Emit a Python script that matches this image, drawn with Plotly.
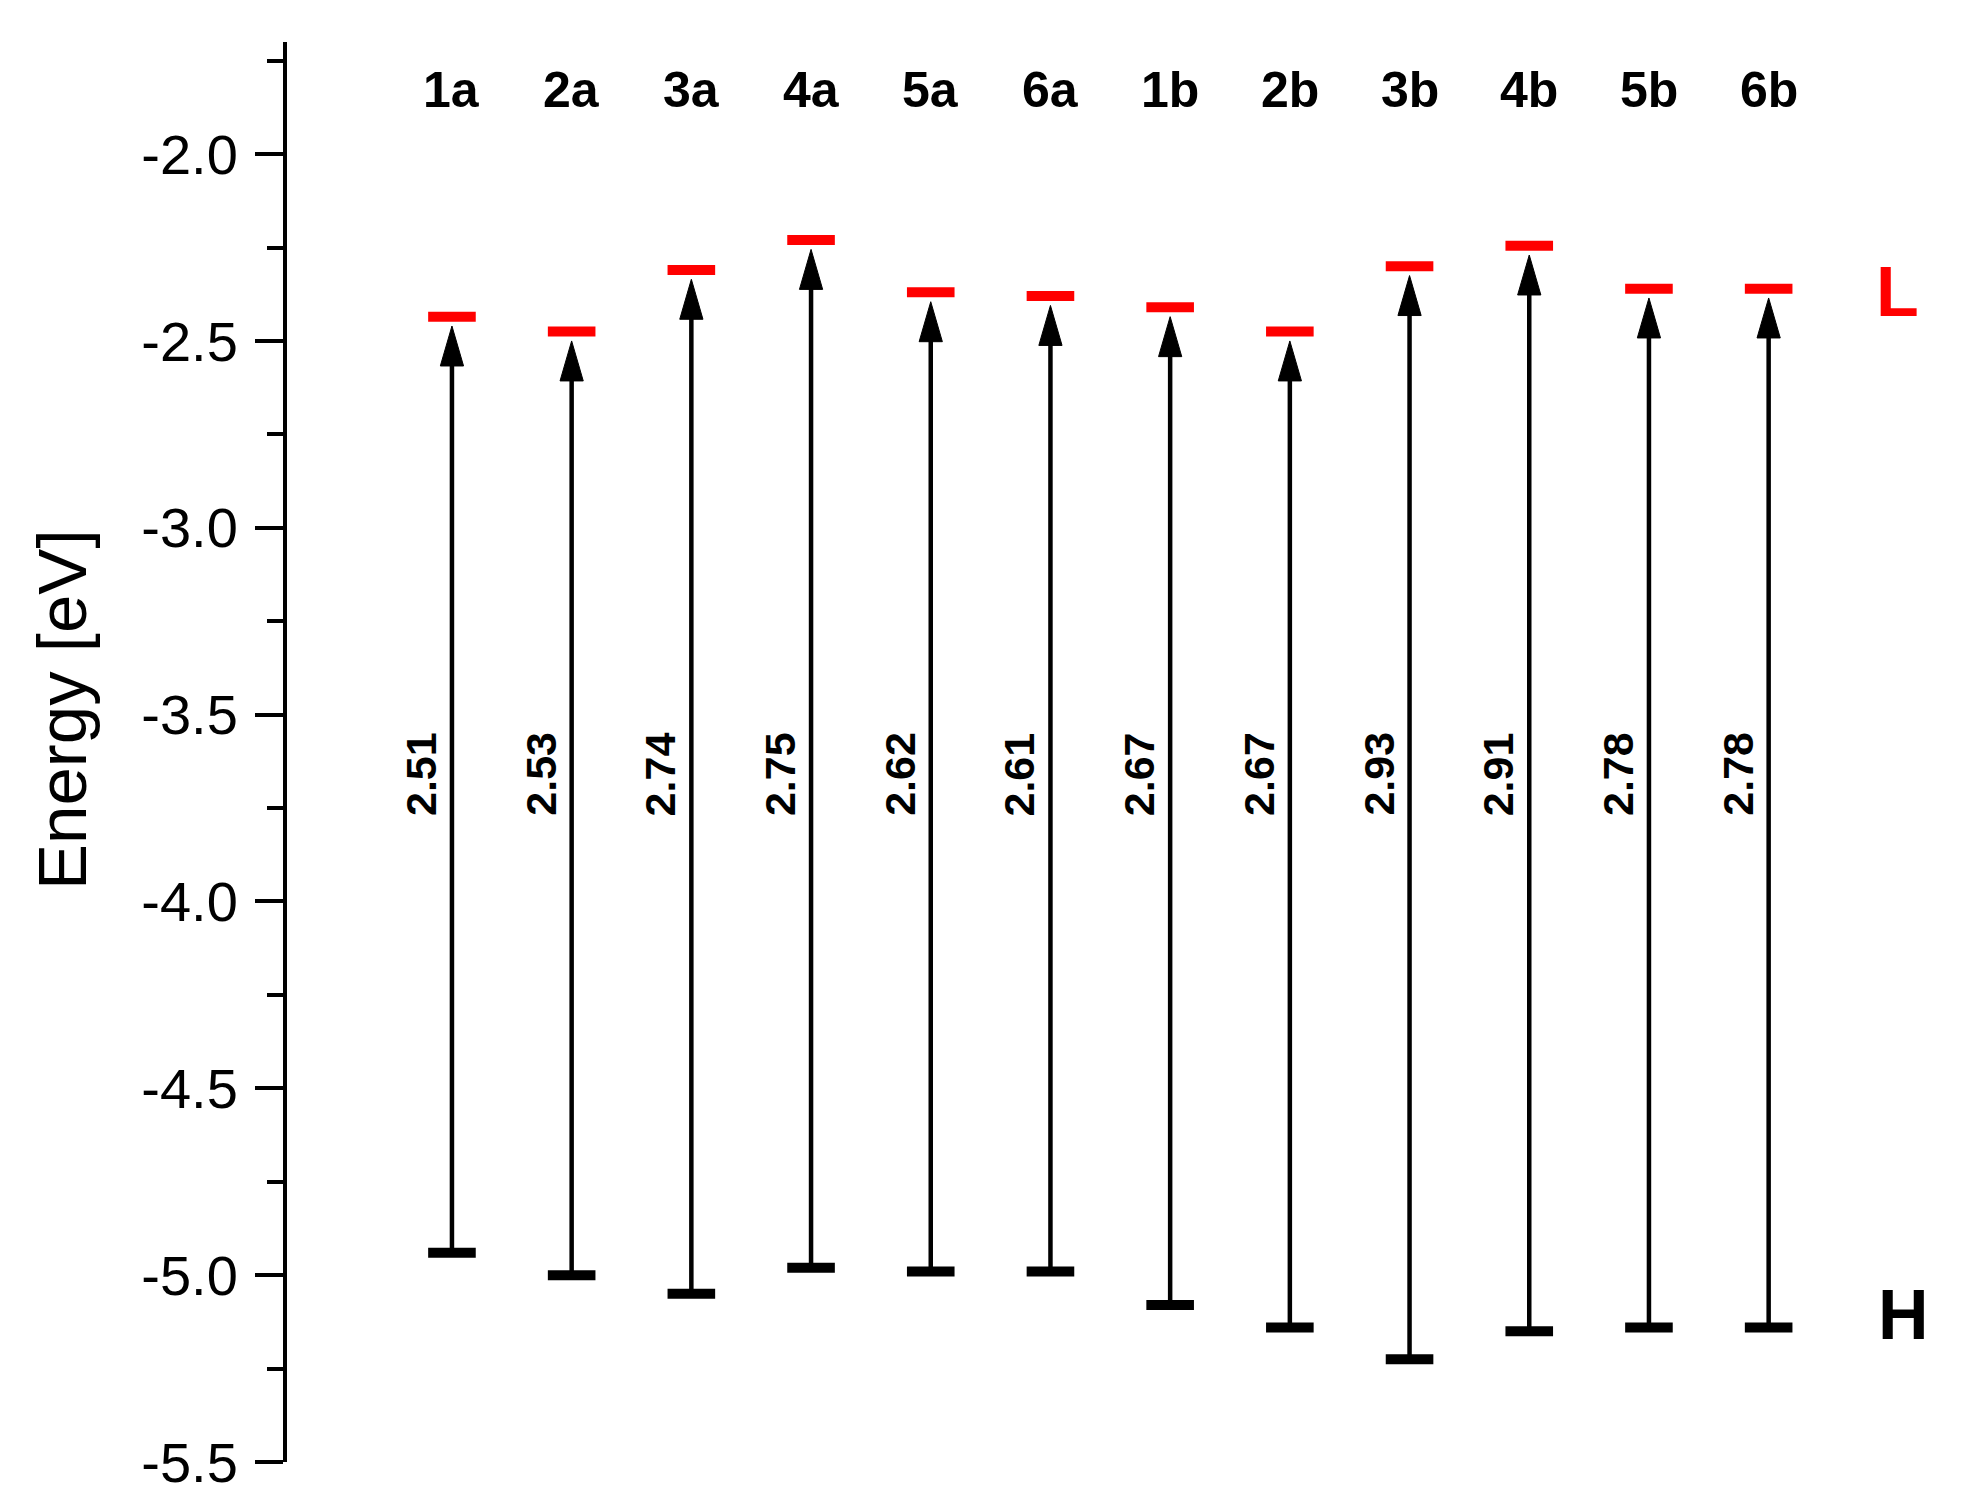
import plotly.graph_objects as go

# molecules / conformers
systems = ["1a", "2a", "3a", "4a", "5a", "6a", "1b", "2b", "3b", "4b", "5b", "6b"]
# LUMO (L) and HOMO (H) levels, eV
lumo = [-2.435, -2.475, -2.31, -2.23, -2.37, -2.38, -2.41, -2.475, -2.30, -2.245, -2.36, -2.36]
homo = [-4.94, -5.00, -5.05, -4.98, -4.99, -4.99, -5.08, -5.14, -5.225, -5.15, -5.14, -5.14]
# printed gap values
gap_labels = ["2.51", "2.53", "2.74", "2.75", "2.62", "2.61",
              "2.67", "2.67", "2.93", "2.91", "2.78", "2.78"]
# y ticks (plain hyphen, as in the original)
tick_vals = [-5.5, -5.0, -4.5, -4.0, -3.5, -3.0, -2.5, -2.0]
tick_text = ["-5.5", "-5.0", "-4.5", "-4.0", "-3.5", "-3.0", "-2.5", "-2.0"]

FONT = "Arial, Liberation Sans, sans-serif"
head_len = 0.107   # eV
head_hw = 0.097    # x units
tip_gap = 0.025

xs = list(range(len(systems)))

shaft_x, shaft_y = [], []
head_x, head_y = [], []
for i, (lo, hi) in enumerate(zip(lumo, homo)):
    tip = lo - tip_gap
    shaft_x += [i, i, None]
    shaft_y += [hi, tip - head_len + 0.01, None]
    head_x += [i - head_hw, i, i + head_hw, i - head_hw, None]
    head_y += [tip - head_len, tip, tip - head_len, tip - head_len, None]

fig = go.Figure()

fig.add_trace(go.Scatter(
    x=shaft_x, y=shaft_y, mode="lines",
    line=dict(color="black", width=4.5), hoverinfo="skip", showlegend=False,
))
fig.add_trace(go.Scatter(
    x=head_x, y=head_y, mode="lines", fill="toself", fillcolor="black",
    line=dict(color="black", width=1), hoverinfo="skip", showlegend=False,
))
fig.add_trace(go.Scatter(
    x=xs, y=homo, mode="markers", name="HOMO",
    marker=dict(symbol="line-ew", size=34, line=dict(color="black", width=10)),
    showlegend=False,
))
fig.add_trace(go.Scatter(
    x=xs, y=lumo, mode="markers", name="LUMO",
    marker=dict(symbol="line-ew", size=34, line=dict(color="#ff0000", width=10)),
    showlegend=False,
))

annotations = []
for i, name in enumerate(systems):
    annotations.append(dict(
        x=i, y=-1.829, text="<b>%s</b>" % name, showarrow=False,
        font=dict(family=FONT, size=50, color="black"),
    ))
for i, g in enumerate(gap_labels):
    annotations.append(dict(
        x=i, y=-3.659, text="<b>%s</b>" % g, showarrow=False, textangle=-90,
        xshift=-31, font=dict(family=FONT, size=43, color="black"),
    ))
annotations.append(dict(x=12.08, y=-2.369, text="<b>L</b>", showarrow=False,
                        font=dict(family=FONT, size=70, color="#ff0000")))
annotations.append(dict(x=12.13, y=-5.107, text="<b>H</b>", showarrow=False,
                        font=dict(family=FONT, size=70, color="black")))
# axis title, placed by hand (sits a bit above the plot's middle in the original)
annotations.append(dict(x=0, y=0.5296, xref="paper", yref="paper", xshift=-224,
                        xanchor="center", yanchor="middle",
                        text="Energy [eV]", showarrow=False, textangle=-90,
                        font=dict(family=FONT, size=69, color="black")))

# the page body adds 8px of margin, so the left/top margins are 8px smaller
fig.update_layout(
    width=1963, height=1507,
    margin=dict(l=279, r=21, t=34, b=53),
    paper_bgcolor="white", plot_bgcolor="white",
    annotations=annotations,
    xaxis=dict(range=[-1.378, 12.515], visible=False),
    yaxis=dict(
        range=[-5.5, -1.70], automargin=False,
        tickmode="array", tickvals=tick_vals, ticktext=tick_text,
        ticks="outside", ticklen=28, tickwidth=4, tickcolor="black",
        ticklabelstandoff=6,
        minor=dict(tickmode="linear", tick0=-5.5, dtick=0.25, ticks="outside",
                   ticklen=16, tickwidth=4, tickcolor="black"),
        showline=True, linewidth=4, linecolor="black",
        showgrid=False, zeroline=False,
        tickfont=dict(family=FONT, size=56, color="black"),
    ),
)

fig.write_html("out.html")
